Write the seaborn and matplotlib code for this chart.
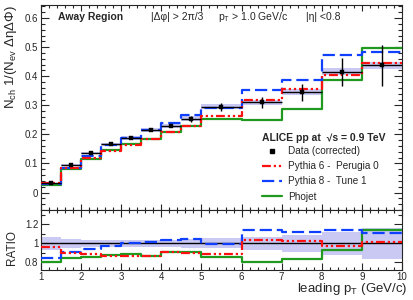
import numpy as np
import pandas as pd
import matplotlib
matplotlib.use("Agg")
import matplotlib.pyplot as plt
import seaborn as sns
from matplotlib.ticker import MultipleLocator
from matplotlib.lines import Line2D

# ---------------- data ----------------
edges = [1, 1.5, 2, 2.5, 3, 3.5, 4, 4.5, 5, 6, 7, 8, 9, 10]
data = [0.033, 0.094, 0.135, 0.166, 0.188, 0.214, 0.230, 0.254, 0.295, 0.310, 0.345, 0.416, 0.437]
stat = [0.002, 0.003, 0.003, 0.003, 0.003, 0.004, 0.006, 0.010, 0.013, 0.019, 0.030, 0.048, 0.070]
sys_rel = 0.03
pythia6 = [0.0317, 0.0846, 0.120, 0.1436, 0.1626, 0.185, 0.209, 0.229, 0.2626, 0.320, 0.355, 0.4035, 0.444]
pythia8 = [0.028, 0.0855, 0.127, 0.162, 0.188, 0.216, 0.238, 0.265, 0.292, 0.354, 0.387, 0.473, 0.483]
phojet = [0.0267, 0.0794, 0.116, 0.146, 0.167, 0.185, 0.208, 0.230, 0.252, 0.249, 0.288, 0.386, 0.498]

labels = ["Data (corrected)", "Pythia 6 -  Perugia 0", "Pythia 8 -  Tune 1", "Phojet"]

# ---------------- style ----------------
sns.set_style("ticks")
plt.rcParams["font.family"] = ["Liberation Sans", "DejaVu Sans"]
plt.rcParams["mathtext.fontset"] = "custom"
plt.rcParams["mathtext.rm"] = "Liberation Sans"
plt.rcParams["mathtext.it"] = "Liberation Sans:italic"
plt.rcParams["mathtext.bf"] = "Liberation Sans:bold"

RED = "#ff1010"
BLUE = "#1040ff"
GREEN = "#1f9a1f"
BAND = "#c9c9f3"
LS_RED = (0, (4, 1.3, 1, 1.3, 1, 1.3))
LS_BLUE = (0, (5.5, 2.2))

edges_a = np.array(edges)
centers = (edges_a[:-1] + edges_a[1:]) / 2
widths = np.diff(edges_a)
data_a = np.array(data)
stat_a = np.array(stat)

fig = plt.figure(figsize=(4.14, 3.0), dpi=100)
W, H = 414, 300
ax = fig.add_axes([41 / W, 1 - 210 / H, (402 - 41) / W, (210 - 5) / H])
axr = fig.add_axes([41 / W, 1 - 270 / H, (402 - 41) / W, 60 / H], sharex=ax)


def steps(axis, vals, color, ls, lw=1.6, z=3):
    yy = list(vals) + [vals[-1]]
    df = pd.DataFrame({"x": edges, "y": yy})
    sns.lineplot(data=df, x="x", y="y", ax=axis, color=color, linestyle=ls,
                 linewidth=lw, drawstyle="steps-post", estimator=None, sort=False,
                 zorder=z, legend=False)


# ---------------- top panel ----------------
sysv = data_a * sys_rel
ax.bar(centers, 2 * sysv, bottom=data_a - sysv, width=widths, color=BAND,
       edgecolor="none", zorder=1)
steps(ax, phojet, GREEN, "-")
steps(ax, pythia8, BLUE, LS_BLUE)
steps(ax, pythia6, RED, LS_RED)
ax.errorbar(centers, data_a, xerr=widths / 2, yerr=stat_a, fmt="none",
            ecolor="black", elinewidth=1.0, capsize=0, zorder=4)
sns.scatterplot(x=centers, y=data_a, ax=ax, marker="s", s=12, color="black",
                edgecolor="black", zorder=5, legend=False)

ax.set_xlim(1, 10)
ax.set_ylim(-0.06, 0.645)
ax.set_yticks([0, 0.1, 0.2, 0.3, 0.4, 0.5, 0.6])
ax.set_yticklabels(["0", "0.1", "0.2", "0.3", "0.4", "0.5", "0.6"])
ax.yaxis.set_minor_locator(MultipleLocator(0.02))
ax.xaxis.set_major_locator(MultipleLocator(1))
ax.xaxis.set_minor_locator(MultipleLocator(0.2))
ax.tick_params(axis="both", which="both", direction="in", top=True, right=True,
               labelsize=7, width=0.8, pad=2)
ax.tick_params(axis="y", which="major", length=6)
ax.tick_params(axis="y", which="minor", length=3)
ax.tick_params(axis="x", which="major", length=4)
ax.tick_params(axis="x", which="minor", length=2)
ax.tick_params(axis="x", labelbottom=False)
ax.set_xlabel("")
ax.set_ylabel("N$_{\\rm ch}$ 1/(N$_{\\rm ev}$ ΔηΔΦ)", fontsize=9.5, loc="top")
ax.yaxis.set_label_coords(-0.062, 1.0)
for s in ax.spines.values():
    s.set_linewidth(0.8)
    s.set_visible(True)


def ftext(x, y, s, va="center", **kw):
    fig.text(x / W, 1 - y / H, s, va=va, **kw)


ftext(58, 17, "Away Region", fontsize=7.5, fontweight="bold")
ftext(151, 17, "|Δφ| > 2π/3", fontsize=7.5)
ftext(218, 17, "p$_{\\rm T}$ > 1.0 GeV/c", fontsize=7.5)
ftext(306, 17, "|η| <0.8", fontsize=7.5)
ftext(262, 138, "ALICE pp at  √s = 0.9 TeV", fontsize=7.5, fontweight="bold")

handles = [
    Line2D([], [], color="black", marker="s", ms=3.5, linestyle="none"),
    Line2D([], [], color=RED, linestyle=LS_RED, lw=1.6),
    Line2D([], [], color=BLUE, linestyle=LS_BLUE, lw=1.6),
    Line2D([], [], color=GREEN, linestyle="-", lw=1.6),
]
fig.legend(handles, labels, loc="upper left", bbox_to_anchor=(262 / W, 1 - 146 / H),
           frameon=False, fontsize=7.2, handlelength=2.0, handletextpad=0.6,
           labelspacing=0.52, borderpad=0, borderaxespad=0)

# ---------------- ratio panel ----------------
rel = np.sqrt(sys_rel ** 2 + (stat_a / data_a) ** 2)
axr.bar(centers, 2 * rel, bottom=1 - rel, width=widths, color=BAND,
        edgecolor="none", zorder=1)
axr.axhline(1.0, color="black", lw=1.0, zorder=2)
steps(axr, np.array(phojet) / data_a, GREEN, "-")
steps(axr, np.array(pythia8) / data_a, BLUE, LS_BLUE)
steps(axr, np.array(pythia6) / data_a, RED, LS_RED)

axr.set_ylim(0.72, 1.35)
axr.set_yticks([0.8, 1.0, 1.2])
axr.set_yticklabels(["0.8", "1", "1.2"])
axr.yaxis.set_minor_locator(MultipleLocator(0.1))
axr.set_xticks(range(1, 11))
axr.set_xticklabels([str(i) for i in range(1, 11)])
axr.xaxis.set_minor_locator(MultipleLocator(0.2))
axr.tick_params(axis="both", which="both", direction="in", top=True, right=True,
                labelsize=7, width=0.8, pad=2)
axr.tick_params(axis="x", which="both", pad=1.2)
axr.tick_params(axis="y", which="major", length=6)
axr.tick_params(axis="y", which="minor", length=3)
axr.tick_params(axis="x", which="major", length=5)
axr.tick_params(axis="x", which="minor", length=2.5)
axr.set_xlim(1, 10)
axr.set_xlabel("")
axr.set_ylabel("RATIO", fontsize=8.5)
axr.yaxis.set_label_coords(-0.064, 0.37)
for s in axr.spines.values():
    s.set_linewidth(0.8)
    s.set_visible(True)

ftext(407, 292, "leading p$_{\\rm T}$ (GeV/c)", va="baseline", fontsize=9.5, ha="right")

fig.savefig("out.png", dpi=100)
